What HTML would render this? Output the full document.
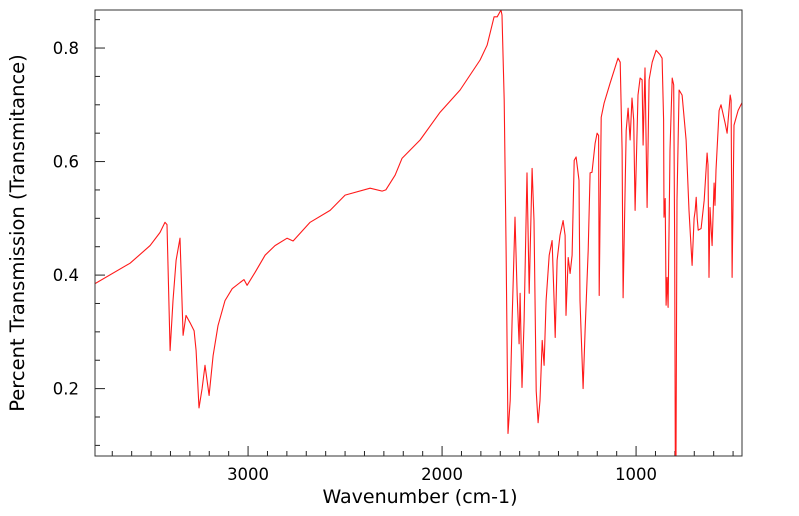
<!DOCTYPE html>
<html>
<head>
<meta charset="utf-8">
<style>
html,body{margin:0;padding:0;background:#fff;}
svg{display:block;font-family:"DejaVu Sans","Liberation Sans",sans-serif;}
</style>
</head>
<body>
<svg id="chart" width="799" height="516" viewBox="0 0 799 516">
  <defs><clipPath id="plotclip"><rect x="95" y="10" width="647" height="446"/></clipPath></defs>
  <g id="ticks"></g>
  <path id="spectrum" fill="none" stroke="#ff1a1a" stroke-width="1.1" stroke-linejoin="round" clip-path="url(#plotclip)"/>
  <rect x="95" y="10" width="647" height="446" fill="none" stroke="#333" stroke-width="1"/>
  <text x="420" y="503" font-size="19" text-anchor="middle">Wavenumber (cm-1)</text>
  <text x="0" y="0" font-size="19.5" text-anchor="middle" transform="translate(24,233) rotate(-90)">Percent Transmission (Transmitance)</text>
</svg>
<script>
const wavenumbers = [3789,3608,3505,3454,3428,3418,3402,3387,3371,3351,3335,3320,3299,3278,3268,3253,3237,3222,3201,3180,3155,3119,3082,3041,3021,3005,2964,2912,2861,2799,2768,2680,2577,2500,2371,2309,2290,2242,2206,2113,2010,1907,1804,1768,1732,1716,1696,1691,1680,1670,1660,1649,1639,1624,1613,1603,1598,1588,1577,1562,1551,1536,1526,1515,1505,1495,1484,1474,1464,1448,1433,1423,1417,1407,1392,1376,1366,1361,1350,1340,1330,1319,1309,1294,1289,1273,1263,1247,1237,1227,1211,1201,1193,1190,1180,1165,1134,1093,1082,1072,1067,1051,1041,1031,1021,1012,1005,990,979,969,964,954,943,933,917,897,876,866,858,856,850,845,840,835,825,814,806,801,798,794,789,778,763,742,727,711,701,695,690,685,680,665,649,634,629,624,619,608,598,593,588,572,562,541,531,515,510,505,495,474,448];
const transmission = [0.385,0.421,0.452,0.475,0.493,0.489,0.267,0.355,0.426,0.465,0.294,0.329,0.316,0.302,0.267,0.166,0.2,0.241,0.188,0.258,0.311,0.355,0.376,0.387,0.392,0.382,0.405,0.435,0.452,0.465,0.46,0.493,0.514,0.541,0.553,0.548,0.55,0.576,0.606,0.638,0.687,0.726,0.779,0.805,0.855,0.855,0.867,0.858,0.708,0.444,0.121,0.179,0.32,0.502,0.364,0.279,0.368,0.202,0.32,0.58,0.368,0.588,0.496,0.196,0.14,0.179,0.285,0.241,0.355,0.435,0.461,0.36,0.29,0.426,0.47,0.496,0.47,0.329,0.431,0.403,0.435,0.602,0.608,0.567,0.355,0.2,0.302,0.444,0.58,0.581,0.632,0.65,0.646,0.364,0.678,0.703,0.738,0.782,0.775,0.62,0.36,0.655,0.694,0.638,0.712,0.673,0.514,0.717,0.747,0.744,0.629,0.765,0.519,0.744,0.775,0.796,0.788,0.782,0.673,0.502,0.535,0.347,0.396,0.343,0.62,0.747,0.735,0.444,0.077,0.077,0.532,0.726,0.717,0.638,0.514,0.417,0.5,0.514,0.537,0.5,0.479,0.482,0.532,0.615,0.594,0.396,0.519,0.452,0.562,0.523,0.585,0.69,0.7,0.668,0.65,0.717,0.708,0.396,0.664,0.69,0.708];
const xTickLabels = [1000,2000,3000];
const yTickLabels = [0.2,0.4,0.6,0.8];

const X0=95, X1=742, Y0=10, Y1=456;
const wnLeft=3789, wnRight=454, tTop=0.867, tBottom=0.0813;
function xs(w){return X0+(wnLeft-w)/(wnLeft-wnRight)*(X1-X0);}
function ys(t){return Y1-(t-tBottom)/(tTop-tBottom)*(Y1-Y0);}

const ns="http://www.w3.org/2000/svg";
let d="";
for(let i=0;i<wavenumbers.length;i++){d+=(i?"L":"M")+xs(wavenumbers[i]).toFixed(1)+","+ys(transmission[i]).toFixed(1);}
document.getElementById("spectrum").setAttribute("d",d);

const g=document.getElementById("ticks");
function line(x1,y1,x2,y2,name){
  const l=document.createElementNS(ns,"line");
  l.setAttribute("x1",x1);l.setAttribute("y1",y1);l.setAttribute("x2",x2);l.setAttribute("y2",y2);
  l.setAttribute("stroke","#222");l.setAttribute("stroke-width","1");
  
  
  g.appendChild(l);
}
function label(x,y,txt,anchor,name){
  const t=document.createElementNS(ns,"text");
  t.setAttribute("x",x);t.setAttribute("y",y);t.setAttribute("font-size","16.5");t.setAttribute("text-anchor",anchor);
  t.textContent=txt;
  
  
  g.appendChild(t);
}
for(let w=500; w<=3700; w+=100){
  const x=xs(w); const major=(w%1000===0);
  line(x,Y1,x,Y1-(major?10:5),"x-tick");
}
xTickLabels.forEach(w=>label(xs(w),480,String(w),"middle","x-tick-label"));
for(let k=2;k<=17;k++){
  const t=k*0.05; const y=ys(t); if(y<Y0||y>Y1) continue;
  const major=(k%4===0);
  line(X0,y,X0+(major?10:5),y,"y-tick");
}
yTickLabels.forEach(t=>label(79,ys(t)+6,t.toFixed(1),"end","y-tick-label"));
</script>
</body>
</html>
